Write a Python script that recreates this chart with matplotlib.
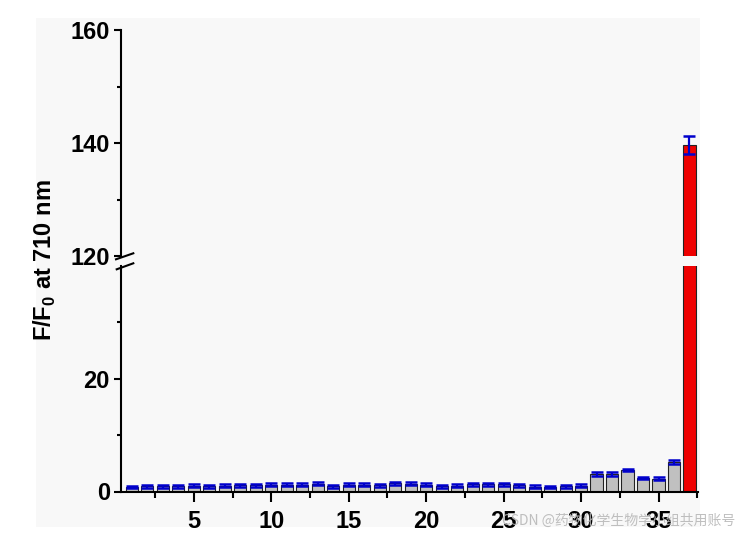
import matplotlib
matplotlib.use("Agg")
import matplotlib.pyplot as plt
from matplotlib.lines import Line2D
from matplotlib.patches import Rectangle
import numpy as np

plt.rcParams['font.family'] = ['Liberation Sans', 'DejaVu Sans']
plt.rcParams['font.weight'] = 'bold'
plt.rcParams['mathtext.fontset'] = 'custom'
plt.rcParams['mathtext.bf'] = 'Liberation Sans:bold'
plt.rcParams['mathtext.rm'] = 'Liberation Sans:bold'

samples = list(range(1, 38))
means = [0.8, 0.95, 0.95, 0.95, 1.0, 0.9, 1.0, 1.1, 1.1, 1.2,
         1.2, 1.2, 1.35, 0.95, 1.2, 1.2, 1.1, 1.45, 1.4, 1.2,
         0.95, 1.0, 1.25, 1.25, 1.25, 1.1, 0.85, 0.8, 0.9, 1.05,
         3.1, 3.1, 3.8, 2.4, 2.3, 5.2, 139.7]
errors = [0.25] * 30 + [0.3, 0.3, 0.25, 0.25, 0.25, 0.3, 1.6]
xticks = [5, 10, 15, 20, 25, 30, 35]
lower_ticks = [0, 20]
upper_ticks = [120, 140, 160]

colors = ['#c0c0c0'] * 36 + ['#ee0000']

W, H = 744, 536
fig = plt.figure(figsize=(W / 100, H / 100), dpi=100)
fig.patch.set_facecolor('white')
fig.patches.append(Rectangle((36 / W, 1 - 527 / H), (700 - 36) / W, (527 - 18) / H,
                             transform=fig.transFigure, facecolor='#f8f8f8',
                             edgecolor='none', zorder=-10))

left = 121 / W
width = (698 - 121) / W
h = 226 / H
ax_lo = fig.add_axes([left, (H - 491.5) / H, width, h])
ax_hi = fig.add_axes([left, (H - 256) / H, width, h])

for ax in (ax_lo, ax_hi):
    ax.set_facecolor('none')
    ax.bar(samples, means, width=0.78, color=colors, edgecolor='#222222', linewidth=0.8, zorder=2)
    ax.errorbar(samples, means, yerr=errors, fmt='none', ecolor='#0000cc',
                elinewidth=1.6, capsize=4, capthick=1.8, zorder=3)
    ax.set_xlim(0.3, 37.55)
    for s in ('top', 'right'):
        ax.spines[s].set_visible(False)
    ax.spines['left'].set_linewidth(1.5)
    ax.spines['bottom'].set_linewidth(1.5)
    ax.tick_params(axis='y', which='major', direction='out', length=5, width=1.5,
                   labelsize=17, pad=3)
    ax.tick_params(axis='y', which='minor', direction='out', length=3, width=1.5)

ax_lo.set_ylim(0, 40)
ax_lo.set_yticks(lower_ticks)
ax_lo.set_yticks([10, 30], minor=True)
ax_lo.set_xticks(xticks)
ax_lo.set_xticks([2.5, 7.5, 12.5, 17.5, 22.5, 27.5, 32.5, 37.5], minor=True)
ax_lo.tick_params(axis='x', which='major', direction='out', length=7, width=1.5,
                  labelsize=17, pad=6)
ax_lo.tick_params(axis='x', which='minor', direction='out', length=4, width=1.5)

ax_hi.set_ylim(120, 160)
ax_hi.set_yticks(upper_ticks)
ax_hi.set_yticks([130, 150], minor=True)
ax_hi.spines['bottom'].set_visible(False)
ax_hi.tick_params(axis='x', which='both', bottom=False, labelbottom=False)

for lab in ax_lo.get_xticklabels() + ax_lo.get_yticklabels() + ax_hi.get_yticklabels():
    lab.set_fontweight('bold')

# break marks
for (x0, y0, x1, y1) in [(116, 259.3, 133.3, 253.3), (116.7, 269.3, 133.3, 263.3)]:
    fig.lines.append(Line2D([x0 / W, x1 / W], [1 - y0 / H, 1 - y1 / H],
                            transform=fig.transFigure, color='black', linewidth=1.5))

fig.text(45 / W, 1 - 260 / H, r'F/F$_{\mathbf{0}}$ at 710 nm', rotation=90,
         ha='center', va='center', fontsize=17, fontweight='bold')

fig.text(735 / W, 1 - 521 / H, 'CSDN @药物化学生物学小组共用账号', ha='right', va='center',
         fontsize=10, color='#b8b8b8', alpha=0.9,
         family=['Noto Sans CJK SC', 'DejaVu Sans'], fontweight='normal')

fig.savefig('out.png', dpi=100)
